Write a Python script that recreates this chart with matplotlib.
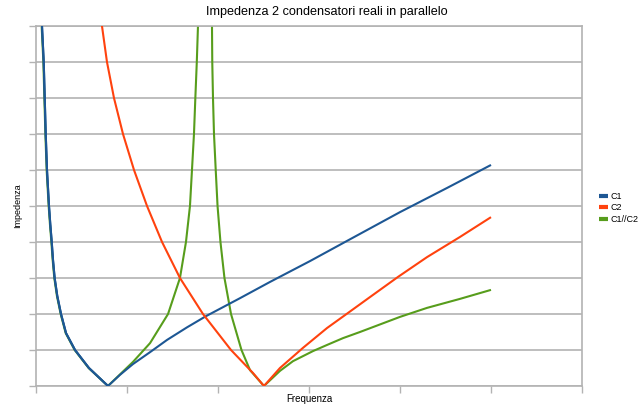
import matplotlib
matplotlib.use("Agg")
import matplotlib.pyplot as plt

plt.rcParams['font.family'] = ['Liberation Sans', 'DejaVu Sans']

titolo = "Impedenza 2 condensatori reali in parallelo"
serie = ["C1", "C2", "C1//C2"]
colori = ["#1d5794", "#ff420e", "#579d1c"]

# C1: risonanza serie intorno a 0.79
c1_x = [0.062, 0.066, 0.085, 0.096, 0.107, 0.121, 0.143, 0.157, 0.173, 0.187, 0.205,
        0.234, 0.275, 0.330, 0.429, 0.582, 0.791,
        0.923, 1.066, 1.253, 1.440, 1.660, 1.868, 2.242, 2.571, 3.011, 3.374, 4.0, 4.516, 5.0]
c1_y = [10.39, 10.0, 9.0, 8.0, 7.0, 6.0, 5.0, 4.5, 4.0, 3.5, 3.0,
        2.5, 2.0, 1.47, 1.0, 0.5, 0.0,
        0.31, 0.61, 0.94, 1.28, 1.63, 1.94, 2.44, 2.89, 3.47, 3.97, 4.83, 5.5, 6.14]

# C2: risonanza serie intorno a 2.5
c2_x = [0.720, 0.725, 0.780, 0.857, 0.956, 1.077, 1.220, 1.385, 1.582, 1.835, 2.143,
        2.385, 2.505,
        2.681, 2.934, 3.198, 3.429, 3.670, 3.978, 4.297, 4.659, 5.0]
c2_y = [10.39, 10.0, 9.0, 8.0, 7.0, 6.0, 5.0, 4.0, 3.0, 2.0, 1.0,
        0.36, 0.0,
        0.5, 1.06, 1.61, 2.03, 2.47, 3.03, 3.58, 4.14, 4.69]

# C1//C2: antirisonanza tra 1.78 e 1.93
par_x = [0.058, 0.062, 0.081, 0.092, 0.103, 0.117, 0.139, 0.153, 0.169, 0.183, 0.201,
         0.230, 0.271, 0.326, 0.425, 0.578, 0.791,
         1.066, 1.253, 1.451, 1.582, 1.648, 1.692, 1.714, 1.736, 1.751, 1.767, 1.780,
         1.784, 1.785, 1.932, 1.933, 1.934, 1.937, 1.945, 1.956, 1.975, 1.995, 2.027,
         2.071, 2.143, 2.258, 2.352, 2.505,
         2.681, 2.824, 3.044, 3.198, 3.374, 3.560, 4.0, 4.297, 4.659, 5.0]
par_y = [10.39, 10.0, 9.0, 8.0, 7.0, 6.0, 5.0, 4.5, 4.0, 3.5, 3.0,
         2.5, 2.0, 1.47, 1.0, 0.5, 0.0,
         0.67, 1.19, 2.0, 3.0, 4.0, 5.0, 6.0, 7.0, 8.0, 9.0, 10.0,
         10.39, 12.0, 12.0, 10.39, 10.0, 9.0, 8.0, 7.0, 6.0, 5.0, 4.0,
         3.0, 2.0, 1.0, 0.44, 0.0,
         0.42, 0.69, 0.97, 1.14, 1.33, 1.5, 1.92, 2.17, 2.42, 2.67]

grigio = "#b3b3b3"

fig = plt.figure(figsize=(6.4, 4.09), dpi=100)
ax = fig.add_axes([36 / 640, 23 / 409, 546 / 640, 360 / 409])

stile = dict(lw=1.5, solid_joinstyle="round", solid_capstyle="butt")
ax.plot(c1_x, c1_y, color=colori[0], label=serie[0], zorder=3, **stile)
ax.plot(c2_x, c2_y, color=colori[1], label=serie[1], zorder=3, **stile)
ax.plot(par_x, par_y, color=colori[2], label=serie[2], zorder=2, **stile)
# il tratto sinistro di C1 sta sopra a C1//C2
ax.plot(c1_x[:17], c1_y[:17], color=colori[0], zorder=4, **stile)

ax.set_xlim(0, 6)
ax.set_ylim(0, 10)
ax.set_xticks(range(0, 7))
ax.set_yticks(range(0, 11))
ax.set_xticklabels([])
ax.set_yticklabels([])
ax.tick_params(axis="both", color=grigio, length=5, width=1, direction="out")
ax.yaxis.grid(True, color=grigio, lw=1.2)
ax.set_axisbelow(True)
for s in ax.spines.values():
    s.set_color(grigio)
    s.set_linewidth(1.2)

fig.text(327 / 640, 1 - 12 / 409, titolo, ha="center", va="center", fontsize=9.1)
fig.text(18 / 640, 1 - 206 / 409, "Impedenza", rotation=90, ha="center", va="center", fontsize=6.5)
fig.text(309 / 640, 1 - 399 / 409, "Frequenza", ha="center", va="center", fontsize=7)

leg = fig.legend(loc="center left", bbox_to_anchor=(594 / 640, 1 - 208 / 409), frameon=False,
                 fontsize=6.5, handlelength=1.1, handletextpad=0.2, labelspacing=0.25,
                 borderpad=0)
for l in leg.get_lines():
    l.set_linewidth(3)

fig.savefig("out.png", dpi=100)
